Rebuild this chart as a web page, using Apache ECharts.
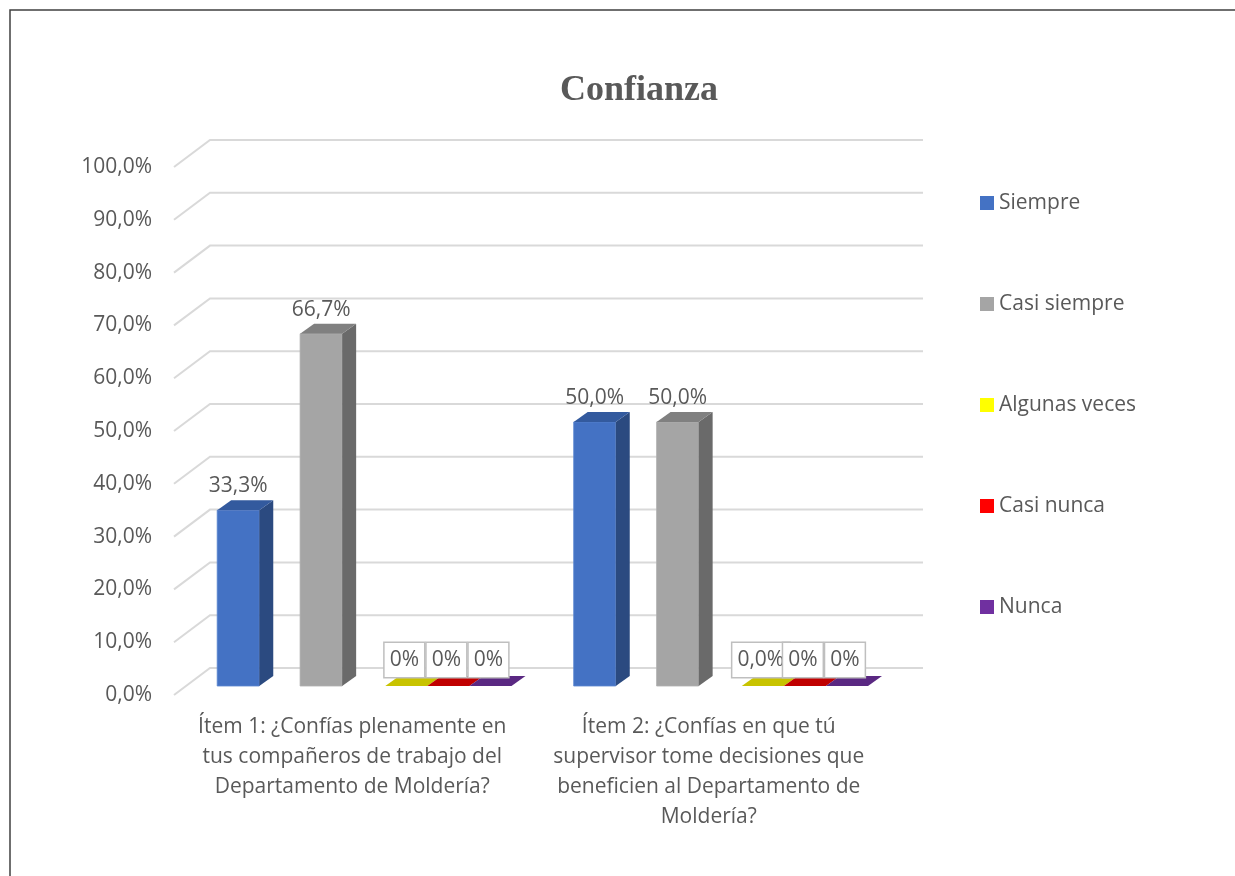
<!DOCTYPE html>
<html>
<head>
<meta charset="utf-8">
<title>Confianza</title>
<script src="https://cdn.jsdelivr.net/npm/echarts@6/dist/echarts.min.js"></script>
<style>
  html, body { margin: 0; padding: 0; background: #fff; }
  #main { width: 1235px; height: 876px; }
</style>
</head>
<body>
<div id="main"></div>
<script type="text/javascript">
// datos
var categorias = [
    'Ítem 1: ¿Confías plenamente en\ntus compañeros de trabajo del\nDepartamento de Moldería?',
    'Ítem 2: ¿Confías en que tú\nsupervisor tome decisiones que\nbeneficien al Departamento de\nMoldería?'
];
var siempre = [33.3, 50.0];
var casiSiempre = [66.7, 50.0];
var algunasVeces = [0, 0];
var casiNunca = [0, 0];
var nunca = [0, 0];
// etiquetas de los valores cero tal como aparecen
var algunasVecesEtiq = ['0%', '0,0%'];
var casiNuncaEtiq = ['0%', '0%'];
var nuncaEtiq = ['0%', '0%'];
var ticksY = [0, 10, 20, 30, 40, 50, 60, 70, 80, 90, 100];

var FUENTE = '"Open Sans", "DejaVu Sans", sans-serif';
var GRIS_TXT = '#595959';
var TAM = 21;
var DX = 14, DY = -10;        // profundidad de cada barra
var ANCHO = 0.118;            // ancho de barra en fracción de categoría

function fmt(v) {
    return v.toFixed(1).replace('.', ',') + '%';
}

// serie de barras "3D" dibujada con custom
function serieBarra(nombre, datos, etiquetas, offset, colores) {
    return {
        name: nombre,
        type: 'custom',
        xAxisIndex: 0,
        yAxisIndex: 0,
        itemStyle: { color: colores.leyenda },
        z: 5,
        data: datos.map(function (v, i) { return [i, v]; }),
        renderItem: function (params, api) {
            var i = api.value(0), v = api.value(1);
            var base = api.coord([i, 0]);
            var tope = api.coord([i, v]);
            var banda = api.size([1, 0])[0];
            var w = ANCHO * banda;
            var x0 = base[0] + offset * banda;
            var y0 = base[1], y1 = tope[1];
            var hijos = [];
            if (y0 - y1 > 0.5) {
                hijos.push({
                    type: 'rect',
                    shape: { x: x0, y: y1, width: w, height: y0 - y1 },
                    style: { fill: colores.frente, stroke: colores.borde, lineWidth: 0.8 }
                });
                hijos.push({
                    type: 'polygon',
                    shape: { points: [[x0 + w, y1], [x0 + w + DX, y1 + DY], [x0 + w + DX, y0 + DY], [x0 + w, y0]] },
                    style: { fill: colores.lado }
                });
            }
            hijos.push({
                type: 'polygon',
                shape: { points: [[x0, y1], [x0 + DX, y1 + DY], [x0 + w + DX, y1 + DY], [x0 + w, y1]] },
                style: { fill: colores.tapa }
            });
            var txt = etiquetas ? etiquetas[i] : fmt(v);
            if (v > 0) {
                hijos.push({
                    type: 'text',
                    z2: 10,
                    style: {
                        x: x0 + w / 2, y: y1 - 24, text: txt,
                        align: 'center', verticalAlign: 'middle',
                        fill: GRIS_TXT, font: TAM + 'px ' + FUENTE
                    }
                });
            } else {
                hijos.push({
                    type: 'text',
                    z2: 10,
                    style: {
                        x: x0 + w / 2 - 2, y: y0 - 26, text: txt,
                        align: 'center', verticalAlign: 'middle',
                        fill: GRIS_TXT, font: TAM + 'px ' + FUENTE,
                        backgroundColor: '#ffffff', borderColor: '#bfbfbf', borderWidth: 1.5,
                        padding: [7, 5, 6, 5]
                    }
                });
            }
            return { type: 'group', children: hijos };
        }
    };
}

var myChart = echarts.init(document.getElementById('main'));

var option = {
    animation: false,
    backgroundColor: '#ffffff',
    title: {
        text: 'Confianza',
        left: 639,
        top: 73,
        padding: 0,
        textAlign: 'center',
        textStyle: { fontFamily: '"Liberation Serif", "Times New Roman", serif', fontWeight: 'bold', fontSize: 36, color: GRIS_TXT }
    },
    legend: {
        orient: 'vertical',
        left: 980,
        top: 192,
        padding: 0,
        itemWidth: 14,
        itemHeight: 14,
        itemGap: 79,
        itemTextGap: 6,
        icon: 'rect',
        data: ['Siempre', 'Casi siempre', 'Algunas veces', 'Casi nunca', 'Nunca'],
        textStyle: { fontFamily: FUENTE, fontSize: TAM, color: GRIS_TXT, lineHeight: 22 }
    },
    graphic: [{
        type: 'rect',
        shape: { x: 10, y: 10, width: 1400, height: 1000 },
        style: { fill: 'none', stroke: '#404040', lineWidth: 1.5 },
        silent: true
    }],
    grid: [
        // plano de las barras
        { left: 186, top: 158, width: 713, height: 528 },
        // plano frontal (ejes)
        { left: 174, top: 167, width: 713, height: 528 }
    ],
    xAxis: [
        { type: 'category', gridIndex: 0, data: categorias, show: false },
        {
            type: 'category', gridIndex: 1, data: categorias,
            axisLine: { show: false }, axisTick: { show: false },
            axisLabel: { fontFamily: FUENTE, fontSize: TAM, color: GRIS_TXT, lineHeight: 30, margin: 17, interval: 0 }
        }
    ],
    yAxis: [
        { type: 'value', gridIndex: 0, min: 0, max: 100, interval: 10, show: false },
        {
            type: 'value', gridIndex: 1, min: 0, max: 100, interval: 10,
            axisLine: { show: false }, axisTick: { show: false }, splitLine: { show: false },
            axisLabel: { fontFamily: FUENTE, fontSize: TAM, color: GRIS_TXT, margin: 22, formatter: function (v) { return fmt(v); } }
        }
    ],
    series: [
        {
            // líneas de división (pared del fondo + diagonal del suelo)
            type: 'custom',
            xAxisIndex: 0,
            yAxisIndex: 0,
            silent: true,
            z: 1,
            data: ticksY.map(function (v) { return [0, v]; }),
            renderItem: function (params, api) {
                var y = api.coord([0, api.value(1)])[1];
                var gx = params.coordSys.x, gw = params.coordSys.width;
                return {
                    type: 'polyline',
                    shape: { points: [[gx - 12, y + 9], [gx + 24, y - 18], [gx + gw + 24, y - 18]] },
                    style: { fill: null, stroke: '#d9d9d9', lineWidth: 2 }
                };
            }
        },
        serieBarra('Siempre', siempre, null, -0.4125, { leyenda: '#4472C4', frente: '#4472C4', lado: '#2B4A80', tapa: '#335A9E', borde: '#5B85D0' }),
        serieBarra('Casi siempre', casiSiempre, null, -0.18, { leyenda: '#A5A5A5', frente: '#A5A5A5', lado: '#6A6A6A', tapa: '#808080', borde: '#B0B0B0' }),
        serieBarra('Algunas veces', algunasVeces, algunasVecesEtiq, 0.059, { leyenda: '#FFFF00', frente: '#FFFF00', lado: '#C0BC00', tapa: '#C8C300', borde: '#C8C300' }),
        serieBarra('Casi nunca', casiNunca, casiNuncaEtiq, 0.177, { leyenda: '#FF0000', frente: '#FF0000', lado: '#B00000', tapa: '#C00000', borde: '#C00000' }),
        serieBarra('Nunca', nunca, nuncaEtiq, 0.295, { leyenda: '#7030A0', frente: '#7030A0', lado: '#4E2070', tapa: '#5A2882', borde: '#5A2882' })
    ]
};

myChart.setOption(option);
</script>
</body>
</html>
